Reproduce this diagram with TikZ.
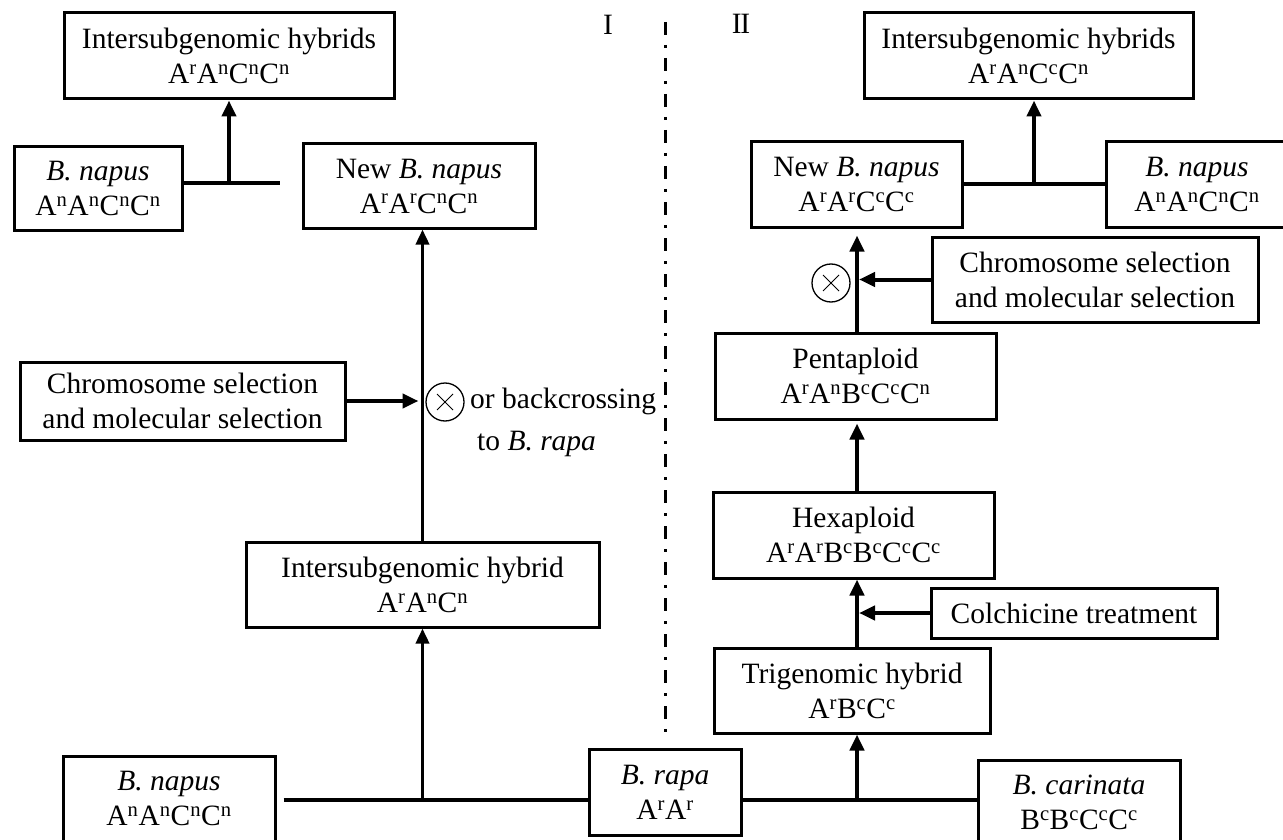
\documentclass[tikz,border=0pt]{standalone}
\usepackage{fontspec}
\setmainfont{Liberation Serif}
\usetikzlibrary{arrows.meta,calc}
\newcommand{\sps}[1]{\textsuperscript{#1}}
\newcommand{\fs}{\fontsize{29.5}{35}\selectfont}
\tikzset{
  box/.style={draw, line width=3pt, align=center, inner sep=0pt, font=\fs},
  conn/.style={line width=4pt},
  arr/.style={line width=4pt, -{Triangle[length=16pt,width=14pt]}},
  thinarr/.style={line width=3.5pt, -{Triangle[length=15pt,width=13pt]}},
  selfx/.style={circle, draw, line width=1.3pt, minimum size=38pt, inner sep=0pt},
  lbl/.style={font=\fs, inner sep=0pt},
}
\begin{document}
\begin{tikzpicture}[x=1pt,y=-1pt]
\useasboundingbox (0,0) rectangle (1283,840);
\clip (0,0) rectangle (1283,840);
% ---------- left part ----------
\node[box, minimum width=330pt, minimum height=86pt] (tlh) at (229,56) {Intersubgenomic hybrids\\A\sps{r}A\sps{n}C\sps{n}C\sps{n}};
\node[box, minimum width=168pt, minimum height=83pt] (bnl) at (98,188.5) {\textit{B. napus}\\A\sps{n}A\sps{n}C\sps{n}C\sps{n}};
\node[box, minimum width=232pt, minimum height=84pt] (nbl) at (419,186) {New \textit{B. napus}\\A\sps{r}A\sps{r}C\sps{n}C\sps{n}};
\node[box, minimum width=325pt, minimum height=78pt] (chl) at (182.5,401) {Chromosome selection\\and molecular selection};
\node[box, minimum width=353pt, minimum height=85pt] (ihl) at (422.5,584.5) {Intersubgenomic hybrid\\A\sps{r}A\sps{n}C\sps{n}};
\node[selfx] (xl) at (445,402) {};
\node[lbl, anchor=base west] (obc) at (470,408) {or backcrossing};
\node[lbl, anchor=base west] (tbr) at (477,450) {to \textit{B. rapa}};
% ---------- bottom ----------
\node[box, minimum width=212pt, minimum height=85pt] (bnb) at (169,798.5) {\textit{B. napus}\\A\sps{n}A\sps{n}C\sps{n}C\sps{n}};
\node[box, minimum width=152pt, minimum height=86pt] (rapa) at (665,792) {\textit{B. rapa}\\A\sps{r}A\sps{r}};
\node[box, minimum width=202pt, minimum height=85pt] (car) at (1079,802.5) {\textit{B. carinata}\\B\sps{c}B\sps{c}C\sps{c}C\sps{c}};
% ---------- right part ----------
\node[box, minimum width=276pt, minimum height=85pt] (tri) at (852,690.5) {Trigenomic hybrid\\A\sps{r}B\sps{c}C\sps{c}};
\node[box, minimum width=286pt, minimum height=50pt] (col) at (1074,613) {Colchicine treatment};
\node[box, minimum width=281pt, minimum height=86pt] (hex) at (853.5,535) {Hexaploid\\A\sps{r}A\sps{r}B\sps{c}B\sps{c}C\sps{c}C\sps{c}};
\node[box, minimum width=281pt, minimum height=86pt] (pen) at (855.5,376) {Pentaploid\\A\sps{r}A\sps{n}B\sps{c}C\sps{c}C\sps{n}};
\node[box, minimum width=326pt, minimum height=85pt] (chr) at (1095,279.5) {Chromosome selection\\and molecular selection};
\node[selfx] (xr) at (831,283) {};
\node[box, minimum width=211pt, minimum height=85pt] (nbr) at (856.5,184.5) {New \textit{B. napus}\\A\sps{r}A\sps{r}C\sps{c}C\sps{c}};
\node[box, minimum width=182pt, minimum height=85pt] (bnr) at (1197,184.5) {\textit{B. napus}\\A\sps{n}A\sps{n}C\sps{n}C\sps{n}};
\node[box, minimum width=329pt, minimum height=86pt] (trh) at (1028.5,56) {Intersubgenomic hybrids\\A\sps{r}A\sps{n}C\sps{c}C\sps{n}};
% ---------- labels ----------
\node[lbl] (lI) at (608,25) {I};
\node[lbl] (lII) at (741,24) {I\kern-1.5pt I};
% ---------- helper coordinates ----------
\coordinate (lineY) at (0,800);
\coordinate (rx) at (857,0);
\coordinate (jlEnd) at (280,183);
\coordinate (dtop) at (665,22);
\coordinate (dbot) at (665,735);
% ---------- divider ----------
\draw[line width=3pt, dash pattern=on 13pt off 10pt on 3pt off 10pt] (dtop) -- (dbot);
% ---------- connectors left ----------
\draw[conn] (bnl.east |- jlEnd) -- (jlEnd);
\draw[arr] (tlh.south |- jlEnd) -- (tlh.south);
\draw[thinarr] (ihl.north) -- (ihl.north |- nbl.south);
\draw[arr, shorten >=4pt] (chl.east) -- (ihl.north |- chl.east);
\draw[thinarr] (ihl.south |- lineY) -- (ihl.south);
% ---------- bottom line ----------
\draw[conn] ([xshift=7pt]bnb.east |- lineY) -- (rapa.west |- lineY);
\draw[conn] (rapa.east |- lineY) -- (car.west |- lineY);
% ---------- connectors right ----------
\draw[arr] (rx |- lineY) -- (rx |- tri.south);
\draw[arr] (rx |- tri.north) -- (rx |- hex.south);
\draw[arr] (col.west) -- ([xshift=2pt]rx |- col.west);
\draw[arr, shorten >=3pt] (rx |- hex.north) -- (rx |- pen.south);
\draw[arr, shorten >=7pt] (rx |- pen.north) -- (rx |- nbr.south);
\draw[arr] (chr.west) -- ([xshift=2pt]rx |- chr.west);
\draw[conn] (nbr.east) -- (bnr.west);
\coordinate (jr) at ($(nbr.east)!0.5!(bnr.west)$);
\draw[arr] (jr) -- (jr |- trh.south);
% ---------- crosses in circles ----------
\draw[line width=0.9pt] ($(xl.center)+(-8,-8)$) -- ($(xl.center)+(8,8)$);
\draw[line width=0.9pt] ($(xl.center)+(-8,8)$) -- ($(xl.center)+(8,-8)$);
\draw[line width=0.9pt] ($(xr.center)+(-8,-8)$) -- ($(xr.center)+(8,8)$);
\draw[line width=0.9pt] ($(xr.center)+(-8,8)$) -- ($(xr.center)+(8,-8)$);
\end{tikzpicture}
\end{document}
